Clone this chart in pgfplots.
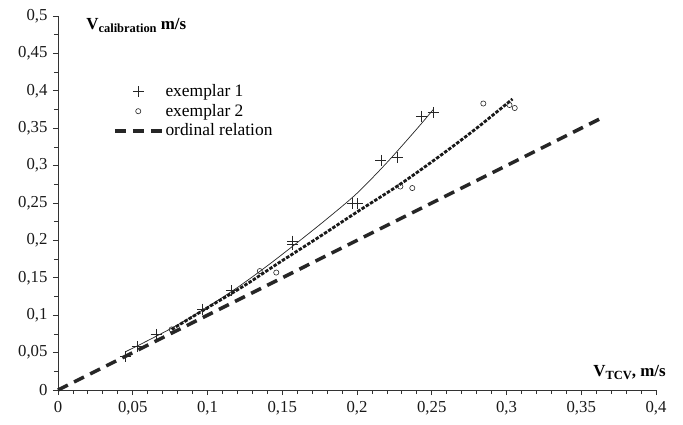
\documentclass[border=0pt]{standalone}
\usepackage{fontspec}
\setmainfont{Liberation Serif}
\usepackage{pgfplots}
\pgfplotsset{compat=1.18}
\newcommand{\sub}[1]{\raisebox{-3.5bp}{\fontsize{12.5}{14}\selectfont\bfseries #1}}
\begin{document}
\fontsize{16}{19}\selectfont
\begin{tikzpicture}
\begin{axis}[
  scale only axis, width=598bp, height=374bp,
  at={(0,0)}, anchor=south west,
  clip=false,
  axis x line=bottom, axis y line=left,
  axis line style={-, line width=0.8bp, black!80},
  xmin=0, xmax=0.4, ymin=0, ymax=0.5,
  xtick={0,0.05,0.1,0.15,0.2,0.25,0.3,0.35,0.4},
  ytick={0,0.05,0.1,0.15,0.2,0.25,0.3,0.35,0.4,0.45,0.5},
  minor x tick num=4, minor y tick num=1,
  tick align=outside, major tick length=5bp, minor tick length=4bp,
  tick style={line width=0.8bp, black!80},
  scaled ticks=false,
  /pgf/number format/assume math mode=true,
  /pgf/number format/use comma,
  /pgf/number format/fixed,
  /pgf/number format/precision=2,
  tick label style={font=\fontsize{16.8}{19}\selectfont, text=black!90},
  xticklabel style={yshift=-1bp},
  legend style={draw=none, fill=none, at={(rel axis cs:0.09,0.826)}, anchor=north west,
    font=\fontsize{17.5}{19}\selectfont, row sep=1.2bp, inner sep=1bp},
  legend cell align=left,
  legend image code/.code={\draw[mark repeat=2,mark phase=2,#1] plot coordinates {(0bp,0bp) (23.5bp,0bp) (47bp,0bp)};},
]
% exemplar 1 trend (thin solid)
\addplot[forget plot, line width=0.7bp, black!85, smooth] coordinates {
(0.045,0.051) (0.06,0.066) (0.08,0.087) (0.10,0.111) (0.12,0.137) (0.14,0.166)
(0.16,0.197) (0.18,0.229) (0.20,0.263) (0.22,0.304) (0.24,0.349) (0.251,0.375)};
% exemplar 2 trend (thick dotted)
\addplot[forget plot, line width=2.8bp, black!90, dash pattern=on 3.5bp off 1.5bp, smooth] coordinates {
(0.076,0.081) (0.10,0.110) (0.125,0.140) (0.1485,0.171) (0.175,0.205) (0.20,0.238)
(0.2288,0.275) (0.2555,0.313) (0.28,0.350) (0.304,0.389)};
% exemplar 1
\addplot[only marks, mark=+, mark size=5.5bp, mark options={line width=0.7bp, black!85}] coordinates {
(0.045,0.0445) (0.053,0.058) (0.0656,0.0745) (0.0968,0.108) (0.116,0.133)
(0.157,0.195) (0.157,0.199) (0.197,0.249) (0.2005,0.249) (0.216,0.307)
(0.227,0.311) (0.243,0.366) (0.251,0.371)};
\addlegendentry{exemplar 1}
% exemplar 2
\addplot[only marks, mark=o, mark size=2.6bp, mark options={line width=0.6bp, black!85}] coordinates {
(0.076,0.081) (0.135,0.159) (0.146,0.157) (0.229,0.272) (0.237,0.270)
(0.2845,0.383) (0.302,0.381) (0.3055,0.377)};
\addlegendentry{exemplar 2}
% ordinal relation
\addplot[line width=3.5bp, black!85, dash pattern=on 11bp off 7bp] coordinates {(0,0) (0.363,0.363)};
\addlegendentry{ordinal relation}
\node[anchor=base west, inner sep=0pt, font=\bfseries\fontsize{17}{19}\selectfont] at (rel axis cs:0.047,0.965) {V\sub{calibration} m/s};
\node[anchor=base east, inner sep=0pt, font=\bfseries\fontsize{17}{19}\selectfont] at (rel axis cs:1.0167,0.0374) {V\sub{TCV}, m/s};
\end{axis}
\pgfresetboundingbox
\path[use as bounding box] (-58bp,-35bp) rectangle (625bp,390bp);
\end{tikzpicture}
\end{document}
